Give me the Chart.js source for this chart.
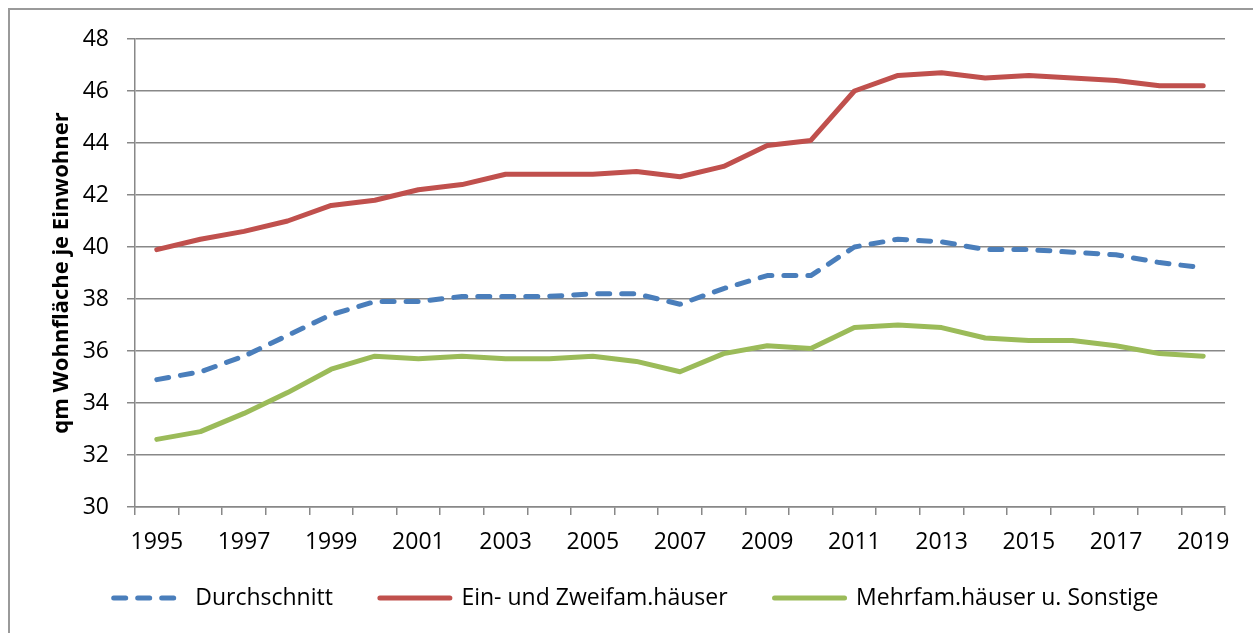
<!DOCTYPE html>
<html>
<head>
<meta charset="utf-8">
<script src="https://cdn.jsdelivr.net/npm/chart.js@4"></script>
<style>
  html, body { margin: 0; padding: 0; background: #ffffff; overflow: hidden; }
  #wrap { position: relative; width: 1253px; height: 633px; }
  #frame { position: absolute; left: 8px; top: 8px; width: 1400px; height: 800px; border: 2px solid #9a9a9a; box-sizing: border-box; }
  canvas { position: absolute; left: 0; top: 0; }
</style>
</head>
<body>
<div id="wrap">
  <div id="frame"></div>
  <canvas id="c" width="1253" height="633"></canvas>
</div>
<script>
const years = ['1995','1996','1997','1998','1999','2000','2001','2002','2003','2004','2005','2006','2007','2008','2009','2010','2011','2012','2013','2014','2015','2016','2017','2018','2019'];
const durchschnitt = [34.9,35.2,35.8,36.6,37.4,37.9,37.9,38.1,38.1,38.1,38.2,38.2,37.8,38.4,38.9,38.9,40.0,40.3,40.2,39.9,39.9,39.8,39.7,39.4,39.2];
const einZwei = [39.9,40.3,40.6,41.0,41.6,41.8,42.2,42.4,42.8,42.8,42.8,42.9,42.7,43.1,43.9,44.1,46.0,46.6,46.7,46.5,46.6,46.5,46.4,46.2,46.2];
const mehrfam = [32.6,32.9,33.6,34.4,35.3,35.8,35.7,35.8,35.7,35.7,35.8,35.6,35.2,35.9,36.2,36.1,36.9,37.0,36.9,36.5,36.4,36.4,36.2,35.9,35.8];
const seriesNames = ['Durchschnitt','Ein- und Zweifam.häuser','Mehrfam.häuser u. Sonstige'];
const yTitle = 'qm Wohnfläche je Einwohner';
const yMin = 30, yMax = 48, yStep = 2;

const FONT = "'Open Sans', 'DejaVu Sans', sans-serif";
const gridColor = '#888888';

// move the legend row to its place below the x-axis labels
const legendPlace = {
  id: 'legendPlace',
  afterLayout(chart) {
    const lg = chart.legend;
    if (!lg) return;
    const d = 539.5 - lg.top;
    lg.top += d; lg.bottom += d;
  }
};

new Chart(document.getElementById('c'), {
  type: 'line',
  data: {
    labels: years,
    datasets: [
      { label: seriesNames[0], data: durchschnitt, borderColor: '#4a7ebb', backgroundColor: '#4a7ebb',
        borderWidth: 5, borderDash: [12, 12], borderCapStyle: 'round', borderJoinStyle: 'round',
        pointRadius: 0, tension: 0, fill: false },
      { label: seriesNames[1], data: einZwei, borderColor: '#c0504d', backgroundColor: '#c0504d',
        borderWidth: 5, borderCapStyle: 'round', borderJoinStyle: 'round',
        pointRadius: 0, tension: 0, fill: false },
      { label: seriesNames[2], data: mehrfam, borderColor: '#9bbb59', backgroundColor: '#9bbb59',
        borderWidth: 5, borderCapStyle: 'round', borderJoinStyle: 'round',
        pointRadius: 0, tension: 0, fill: false }
    ]
  },
  plugins: [legendPlace],
  options: {
    responsive: false,
    animation: false,
    events: [],
    layout: { padding: { left: 47, right: 28, top: 39, bottom: 0 } },
    plugins: {
      tooltip: { enabled: false },
      legend: {
        position: 'bottom',
        labels: {
          usePointStyle: true,
          pointStyle: 'line',
          pointStyleWidth: 70,
          boxHeight: 5,
          padding: 47,
          color: '#000000',
          font: { family: FONT, size: 23 },
          generateLabels: (chart) => {
            const items = Chart.defaults.plugins.legend.labels.generateLabels(chart);
            return items.map((it) => {
              const ds = chart.data.datasets[it.datasetIndex];
              it.lineDash = ds.borderDash || [];
              it.lineCap = 'round';
              it.lineWidth = ds.borderWidth;
              it.strokeStyle = ds.borderColor;
              it.pointStyle = 'line';
              return it;
            });
          }
        }
      }
    },
    scales: {
      x: {
        type: 'category',
        offset: true,
        afterFit: (s) => { s.height = 46; },
        grid: { drawOnChartArea: false, drawTicks: true, tickLength: 8, offset: true, color: gridColor, lineWidth: 1.5 },
        border: { display: true, color: gridColor, width: 1.5 },
        ticks: {
          autoSkip: false, maxRotation: 0, minRotation: 0, padding: 14,
          color: '#000000', font: { family: FONT, size: 23 },
          callback: function(v, i) { return i % 2 === 0 ? this.getLabelForValue(v) : ''; }
        }
      },
      y: {
        min: yMin, max: yMax,
        afterFit: (s) => { s.width = 135 - 47; },
        grid: { color: gridColor, lineWidth: 1.5, drawTicks: true, tickLength: 8 },
        border: { display: true, color: gridColor, width: 1.5 },
        ticks: { stepSize: yStep, padding: 18, color: '#000000', font: { family: FONT, size: 23 } },
        title: { display: true, text: yTitle, color: '#000000', padding: { top: 1.8, bottom: 0 },
                 font: { family: FONT, size: 22, weight: 'bold' } }
      }
    }
  }
});
</script>
</body>
</html>
